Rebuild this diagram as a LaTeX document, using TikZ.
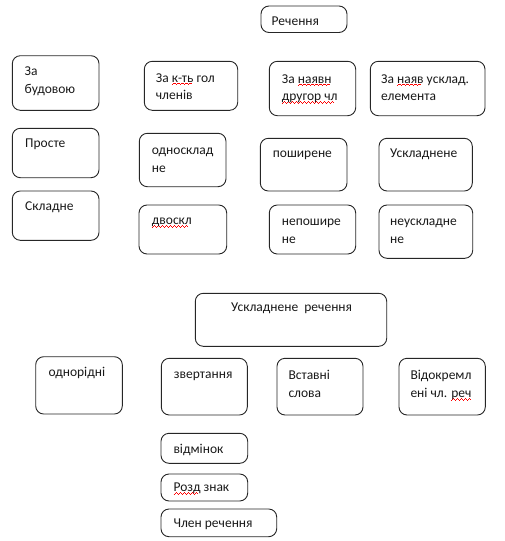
\documentclass[tikz,border=0pt]{standalone}
\usepackage{fontspec}
\setmainfont{Carlito}
\usetikzlibrary{fit}
\newsavebox\sperrbox
\newcommand\sperr[1]{\sbox\sperrbox{#1}\rlap{\color{red}\leaders\hbox{\rule[-3pt]{1pt}{0.8pt}\rule[-2.2pt]{1pt}{0.8pt}\rule[-1.4pt]{1pt}{0.8pt}\rule[-2.2pt]{1pt}{0.8pt}}\hskip\wd\sperrbox}\usebox\sperrbox}
\tikzset{
  bx/.style={draw=black!85, line width=0.9pt, rounded corners=8pt, inner sep=0pt},
  txt/.style={anchor=base west, inner sep=0pt, align=left, font=\fontsize{13.5}{17.8}\selectfont, text=black!90}
}
\begin{document}
\begin{tikzpicture}[x=1pt,y=-1pt]
\useasboundingbox (0,0) rectangle (505,541);
% (multi-line texts are placed by the baseline of their last line)
% top
\node[bx, fit={(261,6)(347,32.5)}] (rech) {};
\node[txt] (rech-t) at (271.5,25.7) {Речення};
% row 1
\node[bx, fit={(12.3,55.7)(99,110.3)}] (bud) {};
\node[txt] (bud-t) at (24.5,93.3) {За\\будовою};
\node[bx, fit={(144.3,61.3)(237.7,110.3)}] (kt) {};
\node[txt] (kt-t) at (155.7,99.8) {За \sperr{к-ть} гол\\членів};
\node[bx, fit={(269.3,61.3)(355.7,115.7)}] (nayavn) {};
\node[txt] (nayavn-t) at (281.7,100.8) {За \sperr{наявн}\\\sperr{другор чл}};
\node[bx, fit={(370.3,61.3)(485,115.7)}] (uskl) {};
\node[txt] (uskl-t) at (381,100.8) {За \sperr{наяв} усклад.\\елемента};
% row 2
\node[bx, fit={(12.3,128.3)(99,177.7)}] (prost) {};
\node[txt] (prost-t) at (25,147.3) {Просте};
\node[bx, fit={(139.3,133.3)(226,186.7)}] (odn) {};
\node[txt] (odn-t) at (151.7,172) {односклад\\не};
\node[bx, fit={(260.3,138.3)(347,191)}] (posh) {};
\node[txt] (posh-t) at (272.7,157.3) {поширене};
\node[bx, fit={(379,138.3)(472.3,191)}] (uskn) {};
\node[txt] (uskn-t) at (390,157.3) {Ускладнене};
% row 3
\node[bx, fit={(12.3,191)(99,240.3)}] (skl) {};
\node[txt] (skl-t) at (25,210) {Складне};
\node[bx, fit={(139,205)(226.7,254)}] (dvo) {};
\node[txt] (dvo-t) at (151.7,224.3) {\sperr{двоскл}};
\node[bx, fit={(269.3,205)(355.7,254)}] (neposh) {};
\node[txt] (neposh-t) at (281.7,243) {непошире\\не};
\node[bx, fit={(379,205)(472.7,258.3)}] (neuskl) {};
\node[txt] (neuskl-t) at (390,243) {неускладне\\не};
% second diagram
\node[bx, fit={(195.3,293.3)(386.7,346.3)}] (ur) {};
\node[txt] (ur-t) at (231,311.7) {Ускладнене\ \ речення};
\node[bx, fit={(35.7,356.7)(122.3,414)}] (odnor) {};
\node[txt] (odnor-t) at (48.3,376.7) {однорідні};
\node[bx, fit={(161.3,358.3)(247.3,415)}] (zv) {};
\node[txt] (zv-t) at (173.7,378.3) {звертання};
\node[bx, fit={(277,358.3)(363,415)}] (vst) {};
\node[txt] (vst-t) at (288.3,397.3) {Вставні\\слова};
\node[bx, fit={(399,358.3)(485.3,415)}] (vidok) {};
\node[txt] (vidok-t) at (410.3,397.3) {Відокремл\\ені чл. \sperr{реч}};
% bottom list
\node[bx, fit={(161,433.3)(247.7,463.3)}] (vidm) {};
\node[txt] (vidm-t) at (173.3,453.3) {відмінок};
\node[bx, fit={(161,474)(247.7,501)}] (rozd) {};
\node[txt] (rozd-t) at (173.3,491.7) {\sperr{Розд} знак};
\node[bx, fit={(161,509)(276.7,536.7)}] (chlen) {};
\node[txt] (chlen-t) at (173.3,527.3) {Член речення};
\end{tikzpicture}
\end{document}
